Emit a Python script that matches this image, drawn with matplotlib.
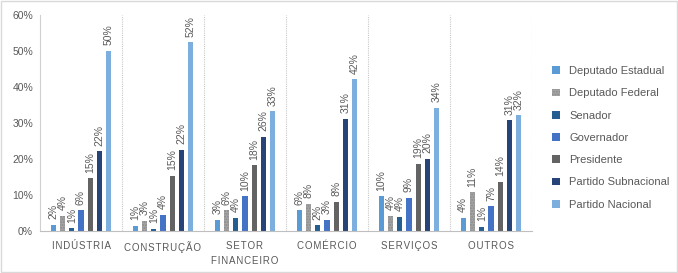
import numpy as np
import matplotlib
matplotlib.use("Agg")
import matplotlib.pyplot as plt
from matplotlib.patches import Rectangle

plt.rcParams["font.family"] = ["Liberation Sans", "DejaVu Sans"]

categories = ["INDÚSTRIA", "CONSTRUÇÃO", "SETOR\nFINANCEIRO", "COMÉRCIO", "SERVIÇOS", "OUTROS"]
series = ["Deputado Estadual", "Deputado Federal", "Senador", "Governador",
          "Presidente", "Partido Subnacional", "Partido Nacional"]

dep_estadual = [1.7, 1.4, 3.1, 5.8, 9.6, 3.6]
dep_federal = [4.2, 2.8, 5.8, 7.6, 4.2, 10.8]
senador = [0.8, 0.6, 3.6, 1.6, 3.9, 1.2]
governador = [5.8, 4.5, 9.6, 3.1, 9.2, 6.9]
presidente = [14.7, 15.3, 18.3, 8.1, 18.6, 13.6]
subnacional = [22.2, 22.5, 26.2, 31.1, 20.0, 30.8]
nacional = [50.0, 52.4, 33.3, 42.2, 34.2, 32.2]

values = [dep_estadual, dep_federal, senador, governador, presidente, subnacional, nacional]
colors = ["#5B9BD5", "#A5A5A5", "#255E91", "#4472C4", "#636363", "#264478", "#7CAFDD"]
text_color = "#595959"

fig = plt.figure(figsize=(6.78, 2.73), dpi=100)
ax = fig.add_axes([40 / 678, 42 / 273, 492 / 678, 216 / 273])

x = np.arange(len(categories))
pitch = 0.113
width = 0.062
for i, (name, vals, c) in enumerate(zip(series, values, colors)):
    pos = x + (i - 3) * pitch
    if name == "Deputado Federal":
        ax.bar(pos, vals, width, color=c, edgecolor="#8a8a8a", linewidth=0,
               hatch="......", label=name)
    else:
        ax.bar(pos, vals, width, color=c, linewidth=0, label=name)
    for px, v in zip(pos, vals):
        ax.annotate(f"{round(v):.0f}%", (px, v), xytext=(0, 4), textcoords="offset points",
                    rotation=90, ha="center", va="bottom", fontsize=7.5, color=text_color)

ax.set_xlim(-0.5, len(categories) - 0.5)
ax.set_ylim(0, 60)
ax.set_yticks(np.arange(0, 61, 10))
ax.set_yticklabels([f"{t}%" for t in range(0, 61, 10)], fontsize=7.5, color=text_color)
ax.tick_params(axis="y", length=0, pad=5)

# espaçamento entre letras
spaced = ["\u200a".join(list(c)).replace("\u200a\n\u200a", "\n") for c in categories]
ax.set_xticks(x)
ax.set_xticklabels(spaced, fontsize=7, color=text_color, linespacing=1.6)
ax.tick_params(axis="x", length=0, pad=7)

ax.spines["top"].set_visible(False)
ax.spines["right"].set_visible(False)
ax.spines["left"].set_color("#d0d0d0")
ax.spines["bottom"].set_color("#bfbfbf")
for b in np.arange(0.5, len(categories), 1.0):
    ax.axvline(b, color="#c8c8c8", linewidth=0.8, linestyle=(0, (1, 1)))

leg = fig.legend(loc="center left", bbox_to_anchor=(0.80, 0.495), frameon=False,
                 fontsize=8, handlelength=0.7, handleheight=0.7, handletextpad=0.8,
                 labelspacing=1.1)
for t in leg.get_texts():
    t.set_color(text_color)

fig.patches.append(Rectangle((0.001, 0.002), 0.997, 0.995, transform=fig.transFigure,
                             fill=False, edgecolor="#d9d9d9", linewidth=1))

fig.savefig("out.png", dpi=100)
